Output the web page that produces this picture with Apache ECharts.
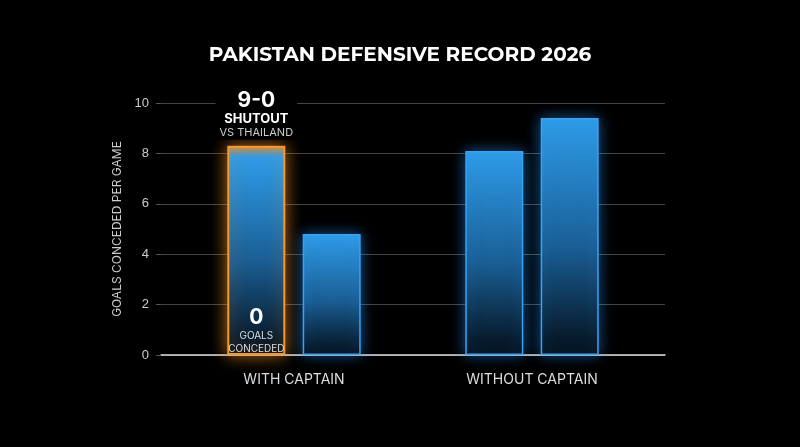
<!DOCTYPE html><html><head><meta charset="utf-8"><script src="https://cdn.jsdelivr.net/npm/echarts@6/dist/echarts.min.js"></script>
<style>html,body{margin:0;background:#000}#c{width:800px;height:447px}</style></head><body><div id="c"></div><script>
const categories=['WITH CAPTAIN','WITHOUT CAPTAIN'];
const seriesA=[8.3,8.1];
const seriesB=[4.8,9.4];
const yTicks=[0,2,4,6,8,10];
const blue={type:'linear',x:0,y:0,x2:0,y2:1,colorStops:[{offset:0,color:'#2f9ce8'},{offset:0.55,color:'#1a5e94'},{offset:1,color:'#040e18'}]};
const orange={type:'linear',x:0,y:0,x2:0,y2:1,colorStops:[{offset:0,color:'#e0882a'},{offset:0.05,color:'#2f9ce8'},{offset:0.55,color:'#1a5e94'},{offset:1,color:'#040e18'}]};
const bs={borderColor:'#3aa2f2',borderWidth:1.5,shadowBlur:14,shadowColor:'rgba(40,150,255,0.55)'};
const F='Inter, sans-serif';
const chart=echarts.init(document.getElementById('c'));
chart.setOption({backgroundColor:'#000',animation:false,
title:{text:'PAKISTAN DEFENSIVE RECORD 2026',left:'center',top:40,textStyle:{color:'#fff',fontFamily:'Montserrat, Inter, sans-serif',fontWeight:'bold',fontSize:20}},
grid:[{left:161,right:135,top:103,bottom:92},{left:175,right:149,top:103,bottom:92}],
xAxis:[{type:'value',gridIndex:0,min:0,max:1,axisLine:{show:true,onZero:false,lineStyle:{color:'#ddd',width:1.5}},axisTick:{show:false},axisLabel:{show:false},splitLine:{show:false}},
{type:'category',gridIndex:1,data:categories,axisLine:{show:false},axisTick:{show:false},axisLabel:{color:'#ddd',fontSize:14,margin:18,fontFamily:F}}],
yAxis:[{type:'value',gridIndex:0,min:0,max:10,interval:2,name:'GOALS CONCEDED PER GAME',nameLocation:'middle',nameGap:36,nameTextStyle:{color:'#ccc',fontSize:12,fontFamily:F},
axisLabel:{color:'#ccc',fontSize:13,margin:12,formatter:v=>yTicks.includes(v)?String(v):''},splitLine:{lineStyle:{color:'#444'}},axisLine:{show:false}},
{type:'value',gridIndex:1,min:0,max:10,show:false}],
series:[
{type:'bar',xAxisIndex:1,yAxisIndex:1,barWidth:58,barGap:'30%',z:3,data:seriesA.map((v,i)=>i===0?{value:v,itemStyle:{color:orange,borderColor:'#f39a2c',borderWidth:2,shadowBlur:16,shadowColor:'rgba(255,150,40,0.7)'},
label:{show:true,position:'top',distance:6,formatter:'{a|9-0}\n{b|SHUTOUT}\n{c|VS THAILAND}',align:'center',backgroundColor:'#000',padding:[0,4],lineHeight:14,rich:{a:{color:'#fff',fontSize:21,fontWeight:'bold',lineHeight:23,fontFamily:F},b:{color:'#fff',fontSize:13,fontWeight:'bold',fontFamily:F},c:{color:'#ccc',fontSize:11,fontFamily:F}}}}:{value:v,itemStyle:Object.assign({color:blue},bs)}),
markPoint:{symbol:'circle',symbolSize:1,itemStyle:{color:'transparent'},data:[{coord:[0,0],label:{show:true,position:'top',distance:0,offset:[0,1],formatter:'{a|0}\n{b|GOALS}\n{b|CONCEDED}',align:'center',lineHeight:13,rich:{a:{color:'#fff',fontSize:21,fontWeight:'bold',lineHeight:23,fontFamily:F},b:{color:'#ddd',fontSize:10,fontFamily:F}}}}]}},
{type:'bar',xAxisIndex:1,yAxisIndex:1,barWidth:58,z:3,data:seriesB.map(v=>({value:v,itemStyle:Object.assign({color:blue},bs)}))}
]});
</script></body></html>
